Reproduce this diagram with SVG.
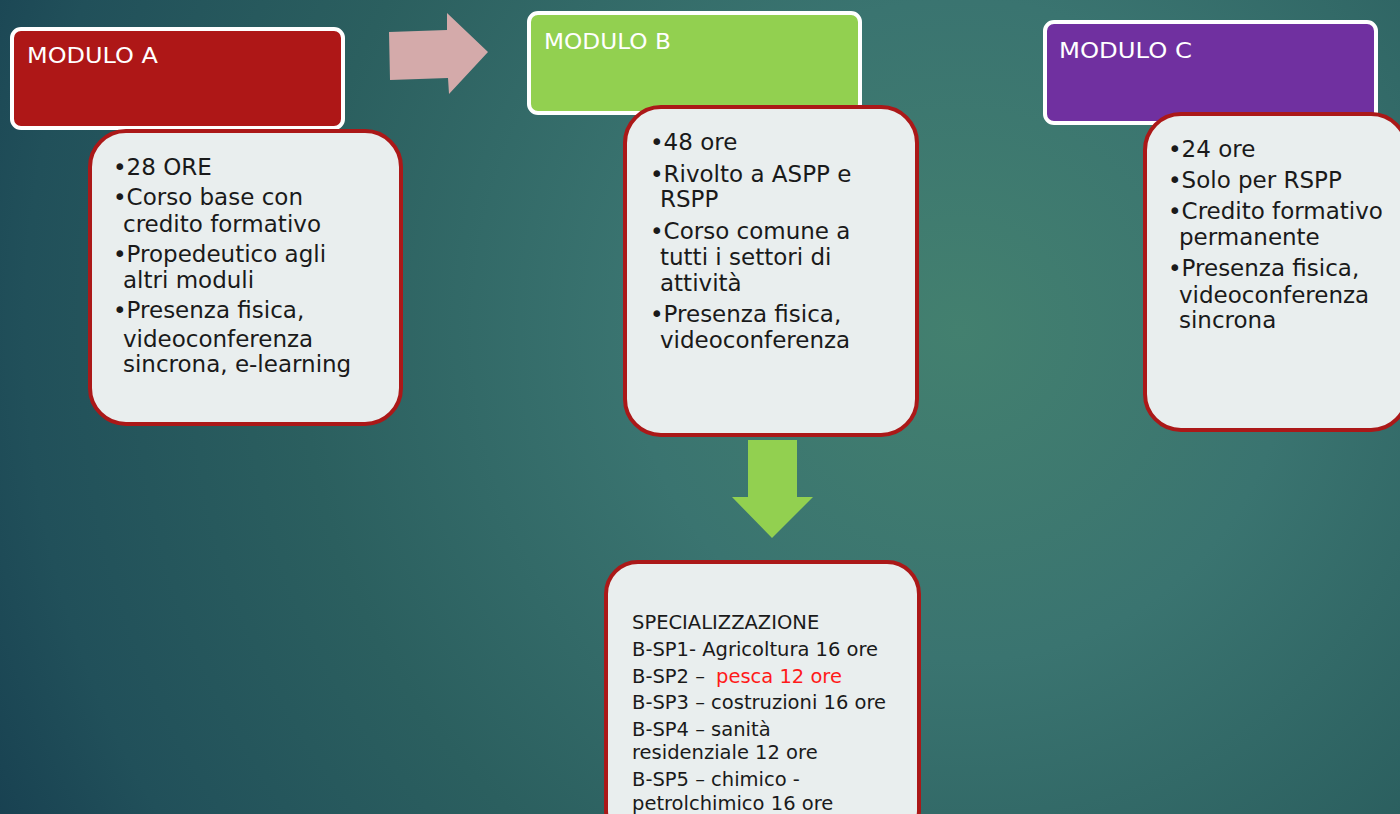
<svg xmlns="http://www.w3.org/2000/svg" width="1400" height="814" viewBox="0 0 1400 814">
<defs>
<radialGradient id="bg" gradientUnits="userSpaceOnUse" cx="960" cy="330" r="1100">
<stop offset="0" stop-color="#43806f"/>
<stop offset="0.3" stop-color="#3a7470"/>
<stop offset="0.6" stop-color="#2b5f5f"/>
<stop offset="0.85" stop-color="#21505a"/>
<stop offset="1" stop-color="#173f50"/>
</radialGradient>
<style>
.hdr{stroke:#ffffff;stroke-width:4}
.hdrt{font-family:"DejaVu Sans",sans-serif;font-size:21px;fill:#ffffff}
.box{fill:#e9eeee;stroke:#ab1818;stroke-width:4}
.t{font-family:"DejaVu Sans",sans-serif;font-size:23px;fill:#1a1a1a}
.s{font-family:"DejaVu Sans",sans-serif;font-size:19.5px;fill:#1a1a1a}
.red{fill:#ff1a1a}
</style>
</defs>
<rect width="1400" height="814" fill="url(#bg)"/>

<g id="connectors">
<polygon points="389,32 447,30 447,13 488,52 449,94 448,78 390,80" fill="#d4aaaa"/>
<polygon points="748,440 797,440 797,497 813,497 772,538 732,497 748,497" fill="#92d050"/>
</g>

<g id="moduloA">
<rect class="hdr" x="12" y="29" width="331" height="99" rx="9" fill="#ae1717"/>
<text class="hdrt" x="27" y="63" textLength="131" lengthAdjust="spacingAndGlyphs">MODULO A</text>
</g>
<g id="moduloA-detail">
<rect class="box" x="90" y="131" width="311" height="293" rx="36"/>
<text class="t">
<tspan x="113" y="175">•28 ORE</tspan>
<tspan x="113" y="205">•Corso base con</tspan>
<tspan x="123" y="232">credito formativo</tspan>
<tspan x="113" y="262">•Propedeutico agli</tspan>
<tspan x="123" y="288">altri moduli</tspan>
<tspan x="113" y="318">•Presenza fisica,</tspan>
<tspan x="123" y="347">videoconferenza</tspan>
<tspan x="123" y="372">sincrona, e-learning</tspan>
</text>
</g>

<g id="moduloB">
<rect class="hdr" x="529" y="13" width="331" height="100" rx="9" fill="#92d050"/>
<text class="hdrt" x="544" y="49" textLength="127" lengthAdjust="spacingAndGlyphs">MODULO B</text>
</g>
<g id="moduloB-detail">
<rect class="box" x="625" y="107" width="292" height="328" rx="36"/>
<text class="t">
<tspan x="650" y="150">•48 ore</tspan>
<tspan x="650" y="182">•Rivolto a ASPP e</tspan>
<tspan x="660" y="207">RSPP</tspan>
<tspan x="650" y="239">•Corso comune a</tspan>
<tspan x="660" y="265">tutti i settori di</tspan>
<tspan x="660" y="291">attività</tspan>
<tspan x="650" y="322">•Presenza fisica,</tspan>
<tspan x="660" y="348">videoconferenza</tspan>
</text>
</g>

<g id="moduloC">
<rect class="hdr" x="1045" y="22" width="331" height="101" rx="9" fill="#7030a0"/>
<text class="hdrt" x="1059" y="58" textLength="133" lengthAdjust="spacingAndGlyphs">MODULO C</text>
</g>
<g id="moduloC-detail">
<rect class="box" x="1145" y="114" width="262" height="316" rx="36"/>
<text class="t">
<tspan x="1168" y="157">•24 ore</tspan>
<tspan x="1168" y="188">•Solo per RSPP</tspan>
<tspan x="1168" y="219">•Credito formativo</tspan>
<tspan x="1179" y="245">permanente</tspan>
<tspan x="1168" y="276">•Presenza fisica,</tspan>
<tspan x="1179" y="303">videoconferenza</tspan>
<tspan x="1179" y="328">sincrona</tspan>
</text>
</g>

<g id="specializzazione">
<rect class="box" x="606" y="562" width="313" height="280" rx="32"/>
<text class="s">
<tspan x="632" y="629">SPECIALIZZAZIONE</tspan>
<tspan x="632" y="656">B-SP1- Agricoltura 16 ore</tspan>
<tspan x="632" y="683">B-SP2 – </tspan><tspan class="red" x="716" y="683">pesca 12 ore</tspan>
<tspan x="632" y="709">B-SP3 – costruzioni 16 ore</tspan>
<tspan x="632" y="736">B-SP4 – sanità</tspan>
<tspan x="632" y="759">residenziale 12 ore</tspan>
<tspan x="632" y="786">B-SP5 – chimico -</tspan>
<tspan x="632" y="810">petrolchimico 16 ore</tspan>
</text>
</g>
</svg>
